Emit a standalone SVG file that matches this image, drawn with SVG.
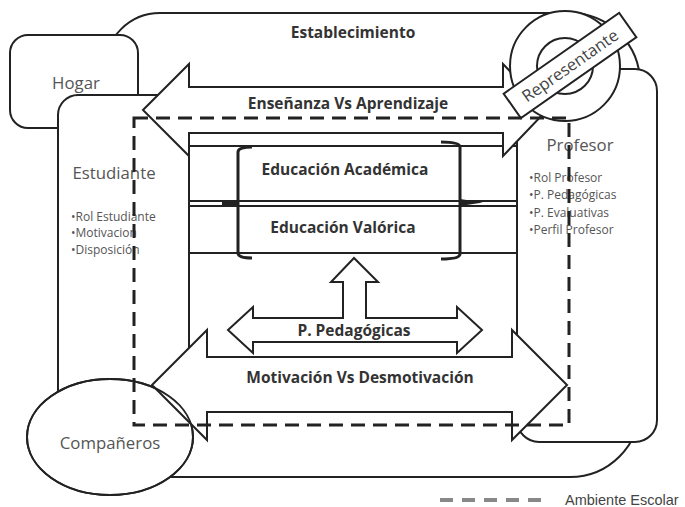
<svg xmlns="http://www.w3.org/2000/svg" width="685" height="507" viewBox="0 0 685 507">
<style>
.shape{fill:#fff;stroke:#222;stroke-width:2}
.line{stroke:#222;stroke-width:2;fill:none}
.brk{stroke:#222;stroke-width:3;fill:none}
.bold{font-family:"Open Sans","Noto Sans",sans-serif;font-weight:bold;font-size:15.5px;fill:#333;text-anchor:middle}
.lbl{font-family:"Open Sans","Noto Sans",sans-serif;font-size:16.8px;fill:#555;text-anchor:middle}
.bul{font-family:"Open Sans","Noto Sans",sans-serif;font-size:12px;fill:#555}
.dash{fill:none;stroke:#222;stroke-width:3;stroke-dasharray:14 8}
</style>
<defs>
<ellipse id="ell" cx="110" cy="437" rx="83" ry="58"/>
</defs>
<rect width="685" height="507" fill="#fff"/>
<g id="establecimiento">
<path class="shape" d="M160,13 H570 A70,70 0 0 1 640,83 V407 A70,70 0 0 1 570,477 H160 A55,55 0 0 1 105,422 V68 A55,55 0 0 1 160,13 Z"/>
<text class="bold" x="353" y="38">Establecimiento</text>
</g>
<g id="hogar">
<rect class="shape" x="10" y="35" width="128" height="93" rx="18"/>
<text class="lbl" x="76" y="89">Hogar</text>
</g>
<g id="estudiante">
<rect class="shape" x="58" y="95" width="131" height="355" rx="20"/>
<text class="lbl" x="114" y="179">Estudiante</text>
<text class="bul" x="71" y="221">•Rol Estudiante</text>
<text class="bul" x="71" y="237">•Motivacion</text>
<text class="bul" x="71" y="254">•Disposición</text>
</g>
<g id="profesor">
<rect class="shape" x="517" y="69" width="140" height="373" rx="22"/>
<text class="lbl" x="580" y="151">Profesor</text>
<text class="bul" x="529" y="182">•Rol Profesor</text>
<text class="bul" x="529" y="199">•P. Pedagógicas</text>
<text class="bul" x="529" y="217">•P. Evaluativas</text>
<text class="bul" x="529" y="234">•Perfil Profesor</text>
</g>
<g id="educacion">
<rect class="shape" x="189" y="146" width="328" height="211"/>
<path class="line" d="M189,201 H517 M189,206 H517 M189,253 H517"/>
<rect x="222" y="200" width="15" height="6" fill="#222"/>
<path class="brk" d="M252,147 Q238,147 238,152 V253 Q238,258 252,258"/>
<path class="brk" d="M441,142 Q460,142 460,147 V254 Q460,259 441,259"/>
<polygon points="460,199 483,202.5 460,206" fill="#222"/>
<text class="bold" x="345" y="175">Educación Académica</text>
<text class="bold" x="343" y="233">Educación Valórica</text>
</g>
<g id="companeros">
<use href="#ell" class="shape"/>
<text class="lbl" x="110" y="449">Compañeros</text>
</g>
<g id="connectors">
<g id="ensenanza">
<path class="shape" d="M143,110 L189,64 V87 H503 V64 L547,110 L503,156 V133 H189 V156 Z"/>
<text class="bold" x="348" y="109">Enseñanza Vs Aprendizaje</text>
</g>
<g id="pedagogicas">
<path class="shape" d="M228,330 L253,307 V318 H343 V282 H331 L354,258 L378,282 H366 V318 H457 V307 L482,330 L457,353 V342 H253 V353 Z"/>
<text class="bold" x="354" y="336">P. Pedagógicas</text>
</g>
<g id="motivacion">
<path class="shape" d="M152,385 L207,330 V357 H512 V330 L567,385 L512,440 V412 H207 V440 Z"/>
<text class="bold" x="360" y="383">Motivación Vs Desmotivación</text>
</g>
</g>
<g id="companeros-outline">
<use href="#ell" fill="none" stroke="#222" stroke-width="2"/>
</g>
<g id="representante">
<circle class="shape" cx="565" cy="66" r="55"/>
<circle class="shape" cx="565" cy="66" r="28"/>
<g transform="rotate(-35 570 65.5)">
<rect class="shape" x="499.5" y="50.5" width="141" height="30"/>
<text class="lbl" x="570" y="71.5" style="fill:#444;font-size:16.5px">Representante</text>
</g>
</g>
<g id="ambiente-escolar">
<rect class="dash" x="134" y="118" width="435" height="307"/>
</g>
<g id="legend">
<line x1="440" y1="500" x2="545" y2="500" stroke="#888" stroke-width="4" stroke-dasharray="13 9"/>
<text x="565" y="505" font-family="Liberation Sans, Arial, sans-serif" font-size="14.5" fill="#444">Ambiente Escolar</text>
</g>
</svg>
